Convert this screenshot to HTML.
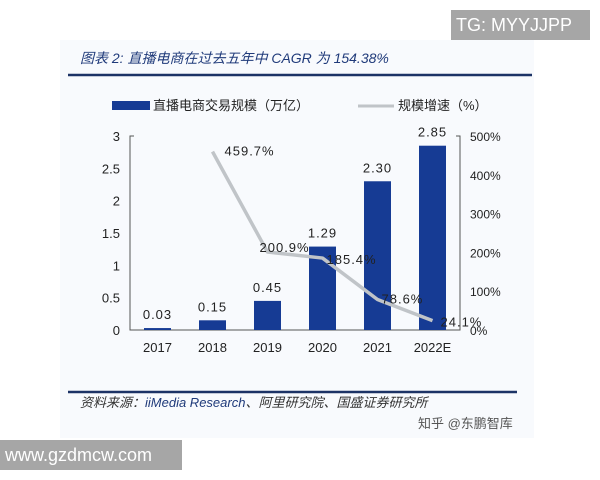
<!DOCTYPE html>
<html><head><meta charset="utf-8"><style>
body{margin:0;width:600px;height:480px;background:#fff;position:relative;overflow:hidden;font-family:"Liberation Sans","Noto Sans CJK SC",sans-serif}
#bg{position:absolute;left:60px;top:40px;width:474px;height:398px;background:#f8fafd}
.tag{position:absolute;background:#a6a6a6;color:#fff;font-size:18px;line-height:30px;padding-left:5px}
</style></head><body>
<div id="bg"></div>
<div class="tag" style="left:451px;top:10px;width:134px;height:30px">TG: MYYJJPP</div>
<div class="tag" style="left:0;top:440px;width:177px;height:30px;padding-left:5px">www.gzdmcw.com</div>
<svg id="c" width="600" height="480" style="position:absolute;left:0;top:0">
<text x="80" y="63" font-size="14" font-style="italic" fill="#1f3a7a">图表 2:  直播电商在过去五年中 CAGR 为 154.38%</text>
<line x1="68" y1="75" x2="532" y2="75" stroke="#1c3366" stroke-width="2.5"/>
<rect x="112" y="101" width="38" height="9" fill="#163b94"/>
<text x="153" y="110" font-size="13" fill="#222">直播电商交易规模（万亿）</text>
<line x1="358" y1="106" x2="394" y2="106" stroke="#c0c4c8" stroke-width="3"/>
<text x="398" y="110" font-size="13" fill="#222">规模增速（%）</text>
<line x1="68" y1="392" x2="517" y2="392" stroke="#1c3366" stroke-width="2.5"/>
<text x="80" y="407" font-size="13" font-style="italic" fill="#333">资料来源：<tspan fill="#1f3a7a">iiMedia Research</tspan>、阿里研究院、国盛证券研究所</text>
<text x="418" y="428" font-size="13" fill="#555">知乎 @东鹏智库</text>
<g id="plot"></g>
</svg>
<script>
const categories=["2017","2018","2019","2020","2021","2022E"];
const scaleValues=[0.03,0.15,0.45,1.29,2.30,2.85];
const scaleLabels=["0.03","0.15","0.45","1.29","2.30","2.85"];
const growthValues=[null,459.7,200.9,185.4,78.6,24.1];
const growthLabels=["","459.7%","200.9%","185.4%","78.6%","24.1%"];
const leftTicks=[0,0.5,1,1.5,2,2.5,3];
const leftTickLabels=["0","0.5","1","1.5","2","2.5","3"];
const rightTicks=[0,100,200,300,400,500];
const rightTickLabels=["0%","100%","200%","300%","400%","500%"];
const NS="http://www.w3.org/2000/svg",g=document.getElementById('plot');
const X0=130,X1=460,Y0=330,Y1=136;
const yL=v=>Y0-(v/3)*(Y0-Y1), yR=v=>Y0-(v/500)*(Y0-Y1);
const band=(X1-X0)/categories.length, xc=i=>X0+band*(i+0.5);
function el(t,a,txt){const e=document.createElementNS(NS,t);for(const k in a)e.setAttribute(k,a[k]);if(txt!=null)e.textContent=txt;g.appendChild(e);return e;}
let e;
e=el('path',{d:`M${X0+4},${Y1} H${X0} V${Y0} H${X1} V${Y1} H${X1-4}`,fill:'none',stroke:'#555','stroke-width':1});


leftTicks.forEach((v,i)=>{const t=el('text',{x:X0-10,y:yL(v)+5,'font-size':13,'text-anchor':'end',fill:'#222'},leftTickLabels[i]);

});
rightTicks.forEach((v,i)=>{const t=el('text',{x:X1+10,y:yR(v)+5,'font-size':12,fill:'#222'},rightTickLabels[i]);

});
categories.forEach((c,i)=>{
const b=el('rect',{x:xc(i)-13.5,y:yL(scaleValues[i]),width:27,height:Y0-yL(scaleValues[i]),fill:'#163b94'});


const l=el('text',{x:xc(i),y:yL(scaleValues[i])-9,'font-size':13,'text-anchor':'middle',fill:'#222','letter-spacing':'1'},scaleLabels[i]);


const x=el('text',{x:xc(i),y:Y0+22,'font-size':13,'text-anchor':'middle',fill:'#222'},c);


});
const pts=[];growthValues.forEach((v,i)=>{if(v!=null)pts.push([xc(i),yR(v)]);});
e=el('polyline',{points:pts.map(p=>p.join(',')).join(' '),fill:'none',stroke:'#c0c4c8','stroke-width':3.5,'stroke-linejoin':'round'});


const offs=[[0,0],[12,4],[-8,0],[4,6],[4,4],[8,6]];
growthValues.forEach((v,i)=>{if(v==null)return;const t=el('text',{x:xc(i)+offs[i][0],y:yR(v)+offs[i][1],'font-size':13,fill:'#222','letter-spacing':'1'},growthLabels[i]);

});
</script>
</body></html>
